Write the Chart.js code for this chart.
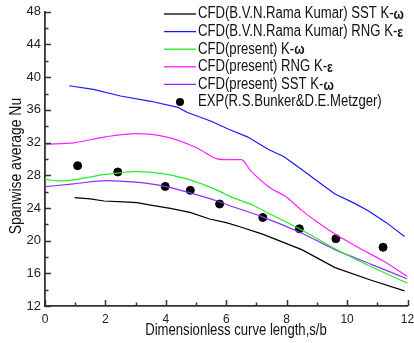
<!DOCTYPE html>
<html>
<head>
<meta charset="utf-8">
<script src="https://cdn.jsdelivr.net/npm/chart.js@4.4.1/dist/chart.umd.min.js"></script>
<style>
  html, body { margin: 0; padding: 0; background: #fff; }
  canvas { display: block; }
</style>
</head>
<body>
<canvas id="chart" width="414" height="343"></canvas>
<script>
// series (x = s/b, y = spanwise average Nu)
const ramaSstX = [0.98, 1.5, 1.95, 2.6, 3.05, 3.5, 4.15, 4.8, 5.45, 6.0, 6.45, 7.2, 8.5, 9.6, 10.8, 11.9];
const ramaSstY = [25.25, 25.1, 24.85, 24.75, 24.65, 24.35, 23.95, 23.45, 22.65, 22.2, 21.7, 20.8, 18.9, 16.7, 15.15, 13.85];

const ramaRngX = [0.8, 1.6, 2.5, 3.5, 4.4, 4.7, 5.5, 6.1, 6.7, 7.4, 7.9, 8.5, 9.1, 9.6, 10.2, 10.7, 11.3, 11.9];
const ramaRngY = [38.95, 38.5, 37.7, 37.05, 36.3, 35.7, 34.6, 33.6, 32.7, 31.15, 30.3, 28.7, 27.05, 25.7, 24.65, 23.65, 22.2, 20.5];

const presKwX = [0, 0.5, 1.15, 2.0, 3.0, 3.9, 4.7, 5.35, 5.8, 6.1, 6.9, 7.45, 8.5, 9.6, 10.8, 12];
const presKwY = [27.5, 27.3, 27.55, 28.1, 28.45, 28.2, 27.55, 26.7, 26.0, 25.45, 24.3, 23.25, 21.3, 19.0, 16.8, 14.8];

const presRngX = [0, 1, 2, 3, 4, 5, 5.7, 6.0, 6.5, 6.8, 7.4, 8.0, 8.5, 9.0, 9.6, 10.4, 11.2, 12];
const presRngY = [31.8, 32.0, 32.7, 33.1, 32.7, 31.4, 30.0, 29.9, 29.9, 28.6, 26.6, 25.3, 23.7, 22.3, 20.8, 19.1, 17.5, 15.6];

const presSstX = [0, 0.95, 2.05, 3.0, 3.9, 4.8, 5.7, 6.1, 7.2, 8.5, 9.6, 10.8, 12];
const presSstY = [26.6, 26.95, 27.35, 27.15, 26.7, 25.85, 24.85, 24.3, 22.9, 20.9, 18.9, 17.1, 15.3];

const expX = [1.08, 2.41, 3.98, 4.81, 5.78, 7.21, 8.42, 9.63, 11.19];
const expY = [29.17, 28.4, 26.63, 26.15, 24.48, 22.83, 21.45, 20.24, 19.19];

const seriesLabels = [
  'CFD(B.V.N.Rama Kumar) SST K-ω',
  'CFD(B.V.N.Rama Kumar) RNG K-ε',
  'CFD(present) K-ω',
  'CFD(present) RNG K-ε',
  'CFD(present) SST K-ω',
  'EXP(R.S.Bunker&D.E.Metzger)'
];
const seriesColors = ['#000000', '#1a1aff', '#22ee22', '#ff22ff', '#8c2cff', '#000000'];

const xTickValues = [0, 2, 4, 6, 8, 10, 12];
const yTickValues = [12, 16, 20, 24, 28, 32, 36, 40, 44, 48];

const FONT = "'Liberation Sans', Arial, sans-serif";
const NARROW = 0.82; // the original text is a condensed sans

function pts(xs, ys) {
  return xs.map((x, i) => ({ x: x, y: ys[i] }));
}

function lineSet(i, xs, ys, tension) {
  return {
    type: 'line',
    label: seriesLabels[i],
    data: pts(xs, ys),
    borderColor: seriesColors[i],
    borderWidth: 1.2,
    pointRadius: 0,
    tension: tension,
    cubicInterpolationMode: tension ? 'monotone' : 'default',
    fill: false
  };
}

// condensed text: squeeze horizontally around the anchor
function narrowText(ctx, text, x, y) {
  ctx.save();
  ctx.translate(x, y);
  ctx.scale(NARROW, 1);
  ctx.fillText(text, 0, 0);
  ctx.restore();
}

// ticks drawn on the inside of the axes, majors and minors
const insideTicks = {
  id: 'insideTicks',
  afterDatasetsDraw(chart) {
    const { ctx, chartArea: a, scales: { x, y } } = chart;
    ctx.save();
    ctx.strokeStyle = '#333';
    ctx.lineWidth = 1.5;
    ctx.beginPath();
    for (let v = xTickValues[0]; v <= xTickValues[xTickValues.length - 1]; v += 1) {
      const px = Math.round(x.getPixelForValue(v)) + 0.5;
      const len = xTickValues.includes(v) ? 6 : 3.5;
      ctx.moveTo(px, a.bottom);
      ctx.lineTo(px, a.bottom - len);
    }
    for (let v = yTickValues[0]; v <= yTickValues[yTickValues.length - 1]; v += 2) {
      const py = Math.round(y.getPixelForValue(v)) + 0.5;
      const len = yTickValues.includes(v) ? 6 : 3.5;
      ctx.moveTo(a.left, py);
      ctx.lineTo(a.left + len, py);
    }
    ctx.stroke();
    ctx.restore();
  }
};

const axisTitles = {
  id: 'axisTitles',
  afterDraw(chart) {
    const ctx = chart.ctx;
    ctx.save();
    ctx.fillStyle = '#111';
    ctx.textAlign = 'center';
    ctx.textBaseline = 'middle';
    ctx.font = '16px ' + FONT;
    narrowText(ctx, 'Dimensionless curve length,s/b', 236, 331);
    ctx.translate(16, 166);
    ctx.rotate(-Math.PI / 2);
    ctx.font = '17px ' + FONT;
    narrowText(ctx, 'Spanwise average Nu', 0, 0);
    ctx.restore();
  }
};

const boxLegend = {
  id: 'boxLegend',
  afterDraw(chart) {
    const ctx = chart.ctx;
    ctx.save();
    ctx.textBaseline = 'middle';
    ctx.textAlign = 'left';
    seriesLabels.forEach((label, i) => {
      const yy = 14 + i * 17.6;
      if (i === seriesLabels.length - 1) {
        ctx.fillStyle = seriesColors[i];
        ctx.beginPath();
        ctx.arc(180, yy, 4, 0, Math.PI * 2);
        ctx.fill();
      } else {
        ctx.strokeStyle = seriesColors[i];
        ctx.lineWidth = 1.3;
        ctx.beginPath();
        ctx.moveTo(164, yy);
        ctx.lineTo(196, yy);
        ctx.stroke();
      }
      ctx.fillStyle = '#111';
      const last = label.slice(-1);
      const greek = last === 'ω' || last === 'ε';
      const main = greek ? label.slice(0, -1) : label;
      ctx.font = '16px ' + FONT;
      narrowText(ctx, main, 198, yy);
      if (greek) {
        const w = ctx.measureText(main).width * NARROW;
        ctx.font = 'bold 15px ' + FONT;
        narrowText(ctx, last, 198 + w, yy + 1);
      }
    });
    ctx.restore();
  }
};

new Chart(document.getElementById('chart'), {
  data: {
    datasets: [
      lineSet(0, ramaSstX, ramaSstY, 0),
      lineSet(1, ramaRngX, ramaRngY, 0),
      lineSet(2, presKwX, presKwY, 0.4),
      lineSet(3, presRngX, presRngY, 0.4),
      lineSet(4, presSstX, presSstY, 0.4),
      {
        type: 'scatter',
        label: seriesLabels[5],
        data: pts(expX, expY),
        backgroundColor: seriesColors[5],
        borderColor: seriesColors[5],
        pointRadius: 4,
        pointHoverRadius: 4
      }
    ]
  },
  options: {
    responsive: false,
    animation: false,
    layout: { padding: { top: 9, right: 6.5, left: 0, bottom: 0 } },
    plugins: { legend: { display: false }, tooltip: { enabled: false } },
    scales: {
      x: {
        type: 'linear',
        min: xTickValues[0],
        max: xTickValues[xTickValues.length - 1],
        afterBuildTicks: s => { s.ticks = xTickValues.map(v => ({ value: v })); },
        afterFit: s => { s.height = 37; s.paddingRight = 0; s.paddingLeft = 0; },
        grid: { display: false, drawTicks: false },
        border: { display: true, color: '#333', width: 1.8 },
        ticks: { color: '#222', font: { family: FONT, size: 12 }, padding: 6, maxRotation: 0 }
      },
      y: {
        type: 'linear',
        min: yTickValues[0],
        max: yTickValues[yTickValues.length - 1],
        afterBuildTicks: s => { s.ticks = yTickValues.map(v => ({ value: v })); },
        afterFit: s => { s.width = 45; },
        grid: { display: false, drawTicks: false },
        border: { display: true, color: '#333', width: 1.8 },
        ticks: { color: '#222', font: { family: FONT, size: 13 }, padding: 4 }
      }
    }
  },
  plugins: [insideTicks, axisTitles, boxLegend]
});
</script>
</body>
</html>
